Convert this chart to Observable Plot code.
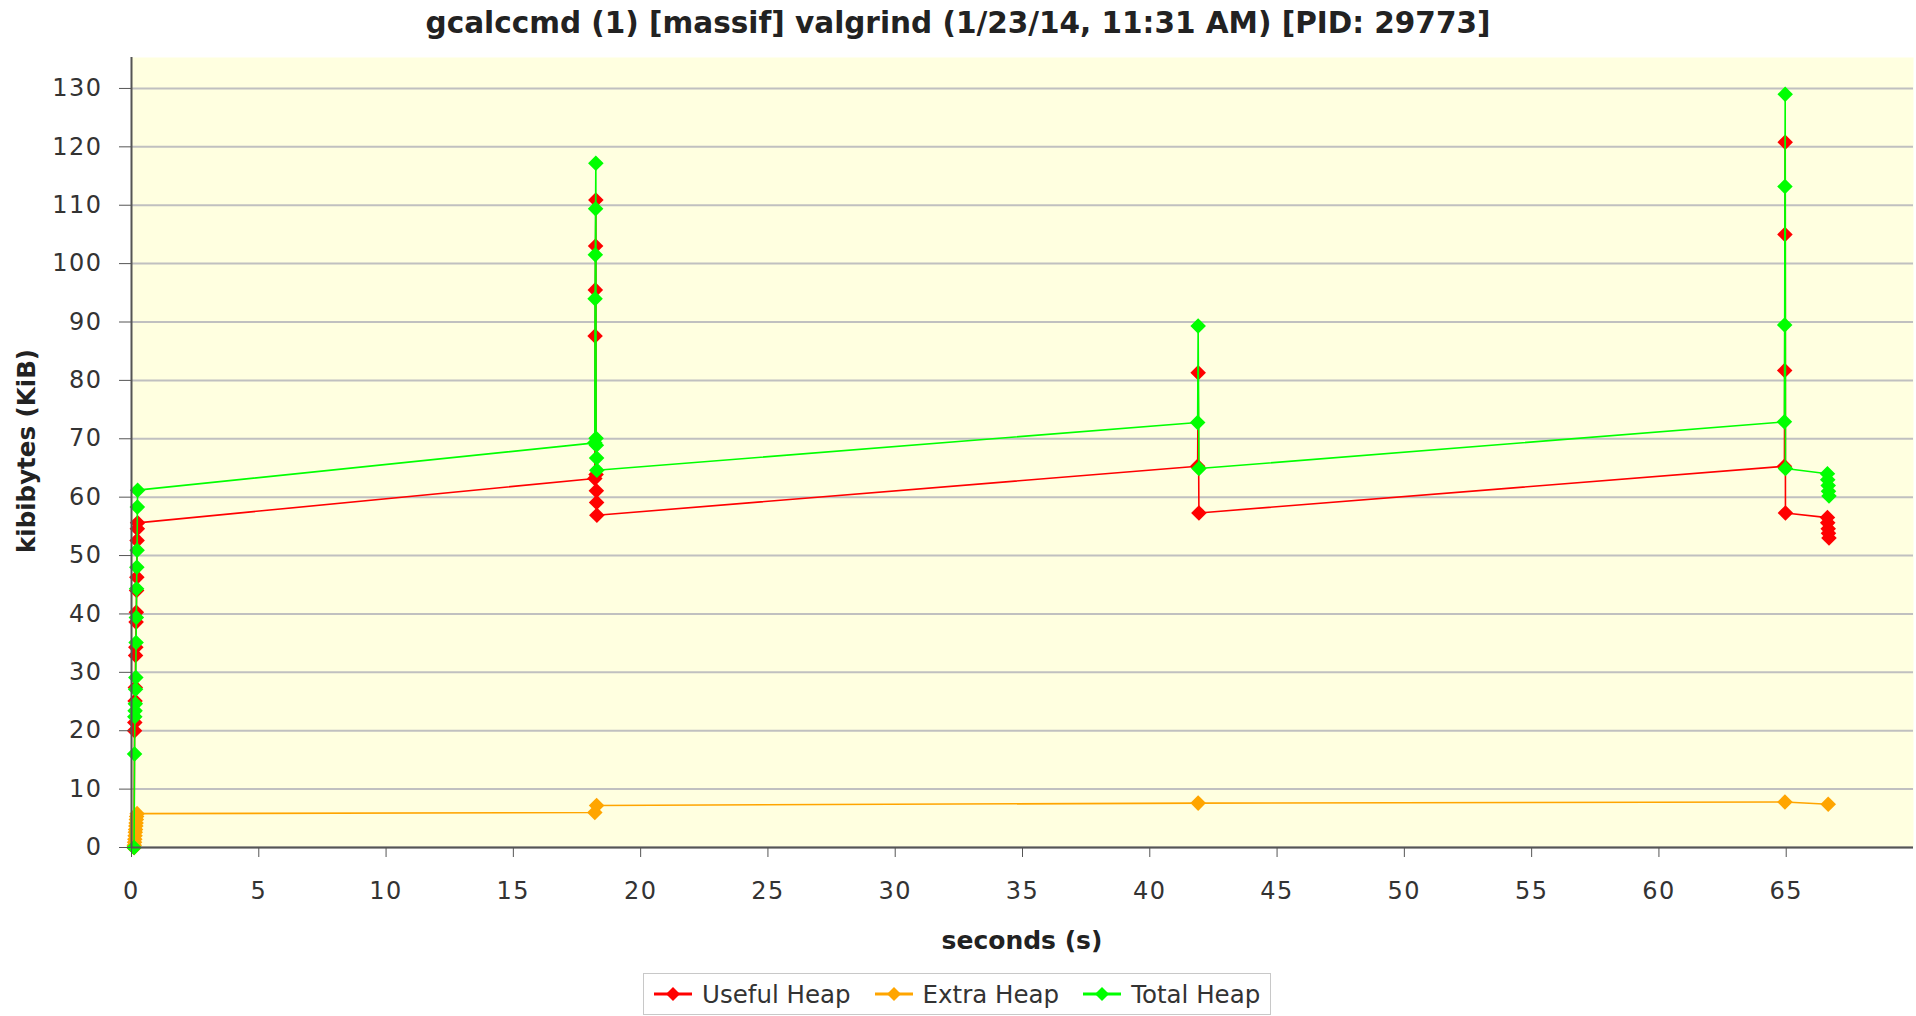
<!DOCTYPE html>
<html><head><meta charset="utf-8">
<script src="https://cdn.jsdelivr.net/npm/d3@7"></script>
<script src="https://cdn.jsdelivr.net/npm/@observablehq/plot@0.6"></script>
<style>
html,body{margin:0;padding:0;background:#fff;}
body{width:1916px;height:1016px;position:relative;overflow:hidden;font-family:"DejaVu Sans",sans-serif;}
#title{position:absolute;left:0;top:6px;width:1916px;text-align:center;font-weight:bold;font-size:29.5px;color:#222;white-space:nowrap;}
#chart{position:absolute;left:0;top:0;}
#xlabel{position:absolute;left:0;width:2044px;top:926px;text-align:center;font-weight:bold;font-size:25px;color:#222;}
#ylabel{position:absolute;left:26px;top:451px;transform:translate(-50%,-50%) rotate(-90deg);font-weight:bold;font-size:24.5px;color:#222;white-space:nowrap;}
#legend{position:absolute;left:643px;top:973px;width:628px;height:42px;border:1px solid #c8c8c8;box-sizing:border-box;display:flex;flex-wrap:nowrap;align-items:center;justify-content:flex-start;padding-left:10px;font-size:24.5px;color:#333;background:#fff;white-space:nowrap;overflow:visible;}
.item{display:flex;align-items:center;margin-right:24px;flex-shrink:0;white-space:nowrap;}
.item:last-child{margin-right:0;}
.item svg{margin-right:10px;flex-shrink:0;}
</style>
</head><body>
<div id="title">gcalccmd (1) [massif] valgrind (1/23/14, 11:31 AM) [PID: 29773]</div>
<div id="chart"></div>
<div id="xlabel">seconds (s)</div>
<div id="ylabel">kibibytes (KiB)</div>
<div id="legend"></div>
<script>
// ---- data (seconds, KiB) ----
const seriesNames = ["Useful Heap", "Extra Heap", "Total Heap"];
const seriesColors = ["#ff0000", "#ffa500", "#00ff00"];
const xTicks = [0,5,10,15,20,25,30,35,40,45,50,55,60,65];
const yTicks = [0,10,20,30,40,50,60,70,80,90,100,110,120,130];

const usefulTime = [0.10,0.12,0.13,0.14,0.15,0.16,0.17,0.18,0.19,0.20,0.21,0.22,0.23,0.24,
  18.20,18.21,18.22,18.23,18.24,18.25,18.26,18.27,18.28,
  41.88,41.90,41.93,
  64.93,64.94,64.95,64.96,64.97,
  66.62,66.63,66.65,66.66,66.68];
const usefulKiB = [0,20.0,21.4,25.1,27.4,32.9,34.3,38.6,40.3,44.0,46.3,52.6,54.6,55.6,
  63.2,87.6,95.5,103.0,110.9,63.9,61.1,59.1,56.9,
  65.3,81.3,57.3,
  65.3,81.7,105.0,120.8,57.3,
  56.5,55.6,54.6,53.8,53.0];

const extraTime = [0.10,0.11,0.12,0.13,0.14,0.15,0.16,0.17,0.18,0.19,0.20,0.22,
  18.20,18.27,
  41.90,
  64.95,
  66.65];
const extraKiB = [0,0.4,0.9,1.4,2.0,2.6,3.1,3.7,4.2,4.8,5.3,5.8,
  6.0,7.2,
  7.6,
  7.8,
  7.4];

const totalTime = [0.10,0.12,0.13,0.14,0.15,0.16,0.17,0.18,0.19,0.20,0.21,0.22,0.23,0.24,
  18.20,18.21,18.22,18.23,18.24,18.25,18.26,18.27,18.28,
  41.88,41.90,41.93,
  64.93,64.94,64.95,64.96,64.97,
  66.62,66.63,66.65,66.66,66.68];
const totalKiB = [0,16.0,22.4,23.4,24.6,27.1,29.1,35.1,39.4,44.3,48.0,50.9,58.3,61.2,
  69.3,94.0,101.5,109.4,117.2,70.1,68.9,66.7,64.6,
  72.8,89.3,64.9,
  72.9,89.5,113.2,129.0,64.9,
  64.0,63.0,62.0,61.0,60.2];

const seriesData = [
  usefulTime.map((t,i) => ({t, v: usefulKiB[i]})),
  extraTime.map((t,i) => ({t, v: extraKiB[i]})),
  totalTime.map((t,i) => ({t, v: totalKiB[i]}))
];

const seriesMarks = seriesData.flatMap((d, i) => [
  Plot.line(d, {x: "t", y: "v", stroke: seriesColors[i], strokeWidth: 1.6}),
  Plot.dot(d, {x: "t", y: "v", fill: seriesColors[i], symbol: "diamond2", r: 7, stroke: null})
]);

const chart = Plot.plot({
  width: 1916,
  height: 960,
  marginLeft: 131,
  marginRight: 3,
  marginTop: 57,
  marginBottom: 113,
  style: {fontFamily: "DejaVu Sans", fontSize: "24px", color: "#333", background: "transparent", letterSpacing: "1.5px"},
  x: {domain: [0, 70]},
  y: {domain: [0, 135.3]},
  marks: [
    Plot.frame({fill: "#ffffe0", stroke: null}),
    Plot.gridY(yTicks, {stroke: "#c0c0c0", strokeWidth: 2, strokeOpacity: 1}),
    ...seriesMarks,
    Plot.axisX(xTicks, {tickSize: 10, tickPadding: 24, label: null, stroke: "#555"}),
    Plot.axisY(yTicks, {tickSize: 12, tickPadding: 17, label: null, stroke: "#555"}),
    Plot.ruleX([0], {stroke: "#555", strokeWidth: 2}),
    Plot.ruleY([0], {stroke: "#555", strokeWidth: 2})
  ]
});
document.getElementById("chart").appendChild(chart);

// legend
const leg = document.getElementById("legend");
seriesNames.forEach((name, i) => {
  const it = document.createElement("div");
  it.className = "item";
  it.innerHTML = `<svg width="38" height="18"><line x1="0" y1="9" x2="38" y2="9" stroke="${seriesColors[i]}" stroke-width="3"/><path d="M19,2 L26,9 L19,16 L12,9 Z" fill="${seriesColors[i]}"/></svg><span>${name}</span>`;
  leg.appendChild(it);
});
</script>
</body></html>
